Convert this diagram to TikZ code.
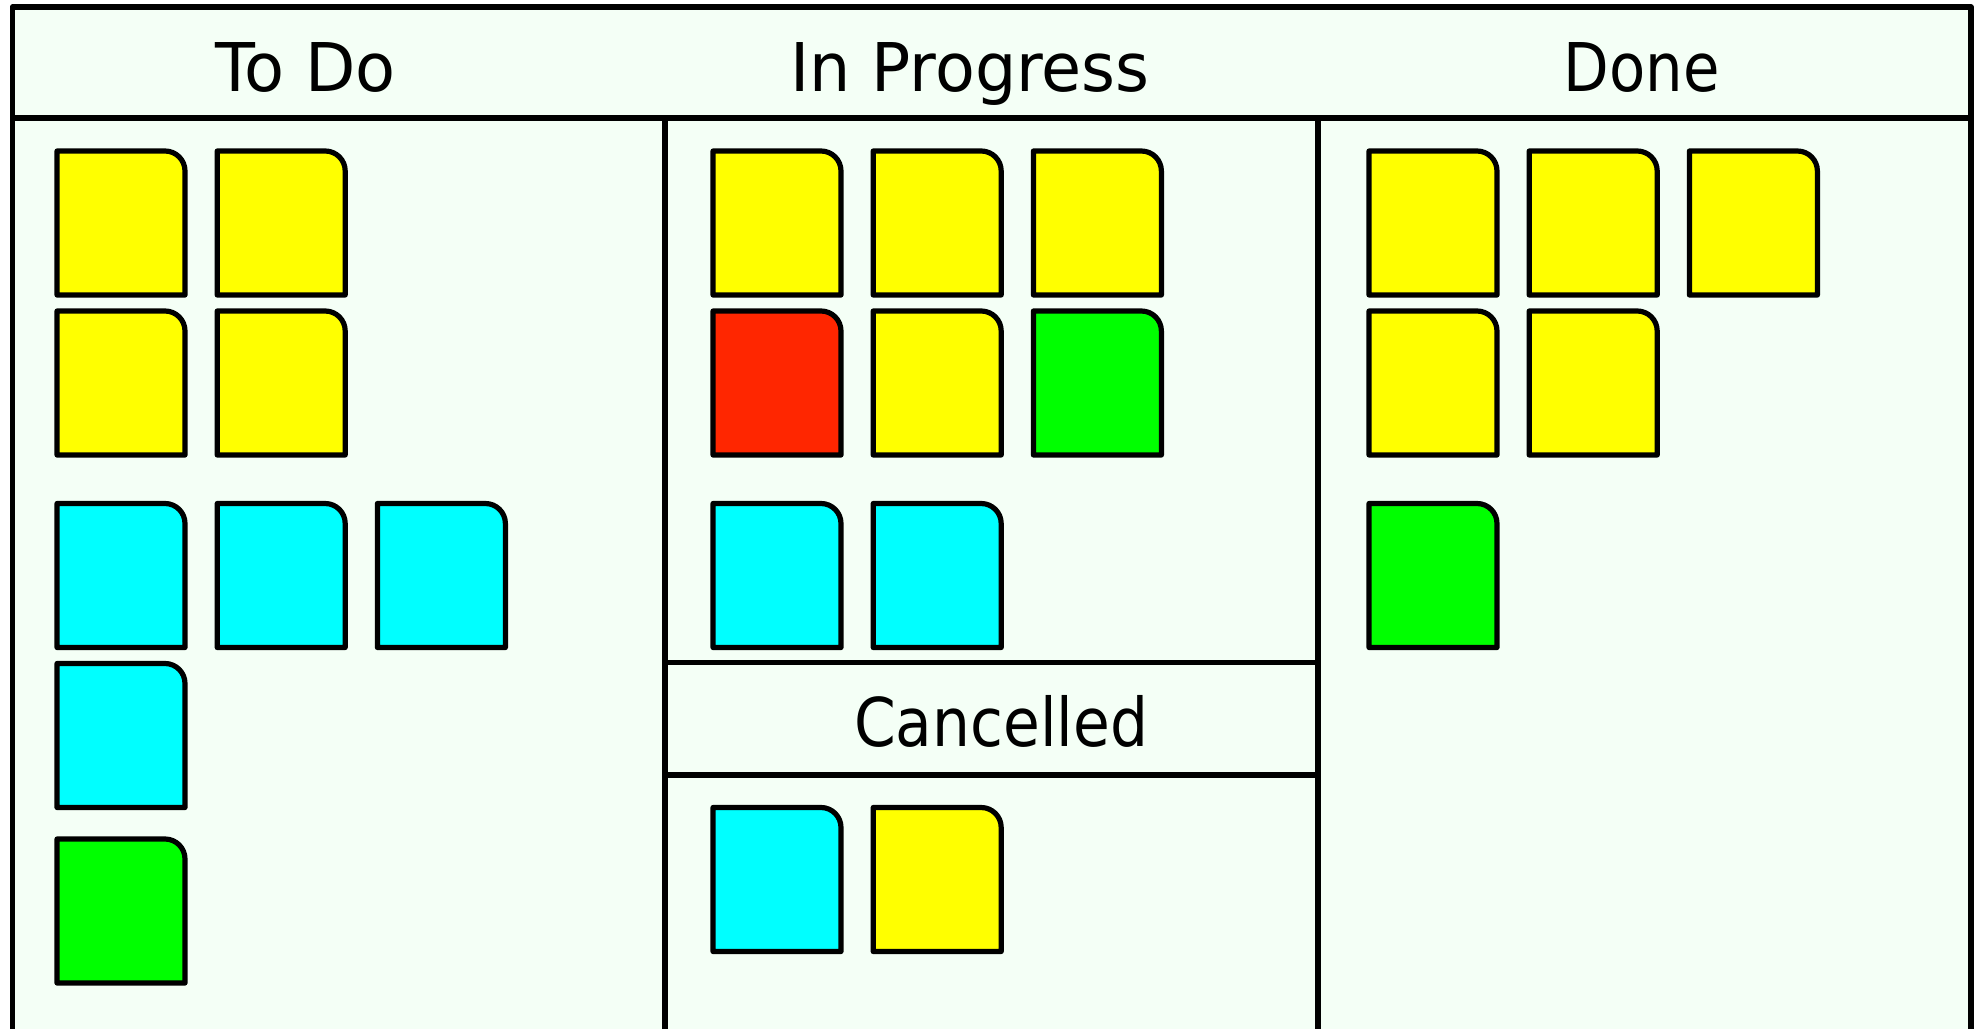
\documentclass[tikz,border=0pt]{standalone}
\usepackage{fontspec}
\setmainfont{DejaVu Sans}
\usepackage{graphicx}
\definecolor{bgmint}{RGB}{244,255,246}
\definecolor{cyellow}{RGB}{255,255,0}
\definecolor{ccyan}{RGB}{0,255,255}
\definecolor{cgreen}{RGB}{0,255,0}
\definecolor{cred}{RGB}{255,38,0}
\tikzset{
  frameline/.style={line width=2.8pt, draw=black, line join=round},
  cardline/.style={line width=2.6pt, draw=black, line join=round},
  headtext/.style={anchor=base, inner sep=0pt, font=\fontsize{33.6}{40}\selectfont}
}
\newcommand\kcard[3]{\filldraw[cardline, fill=#3] (#1,#2+144) -- (#1,#2) -- (#1+108,#2) arc[start angle=-90,end angle=0,radius=20] -- (#1+128,#2+144) -- cycle;}
\begin{document}
\begin{tikzpicture}[x=0.5pt,y=-0.5pt]
\useasboundingbox (0,0) rectangle (1978,1029);
\clip (0,0) rectangle (1978,1029);
\fill[white] (0,0) rectangle (1978,1029);
% board frame
\filldraw[frameline, fill=bgmint] (12.5,7) rectangle (1971,1031.5);
\draw[frameline] (12.5,118) -- (1971,118);
\draw[frameline] (665,118) -- (665,1032);
\draw[frameline] (1318,118) -- (1318,1032);
\draw[frameline] (665,662.5) -- (1318,662.5);
\draw[frameline] (665,775) -- (1318,775);
% headings
\node[headtext] (todo) at (306,91) {\resizebox{90pt}{\height}{To Do}};
\node[headtext] (inprog) at (970,91.5) {\resizebox{179.5pt}{\height}{In Progress}};
\node[headtext] (done) at (1641.7,91) {\resizebox{78pt}{\height}{Done}};
\node[headtext] (cancel) at (1001,746.7) {\resizebox{147pt}{\height}{Cancelled}};
% To Do cards
\kcard{57}{151}{cyellow}
\kcard{217.2}{151}{cyellow}
\kcard{57}{311}{cyellow}
\kcard{217.2}{311}{cyellow}
\kcard{57}{503.5}{ccyan}
\kcard{217.2}{503.5}{ccyan}
\kcard{377.4}{503.5}{ccyan}
\kcard{57}{663.5}{ccyan}
\kcard{57}{839}{cgreen}
% In Progress cards
\kcard{713}{151}{cyellow}
\kcard{873.2}{151}{cyellow}
\kcard{1033.4}{151}{cyellow}
\kcard{713}{311}{cred}
\kcard{873.2}{311}{cyellow}
\kcard{1033.4}{311}{cgreen}
\kcard{713}{503.5}{ccyan}
\kcard{873.2}{503.5}{ccyan}
% Cancelled cards
\kcard{713}{807.5}{ccyan}
\kcard{873.2}{807.5}{cyellow}
% Done cards
\kcard{1369}{151}{cyellow}
\kcard{1529.2}{151}{cyellow}
\kcard{1689.4}{151}{cyellow}
\kcard{1369}{311}{cyellow}
\kcard{1529.2}{311}{cyellow}
\kcard{1369}{503.5}{cgreen}
\end{tikzpicture}
\end{document}
